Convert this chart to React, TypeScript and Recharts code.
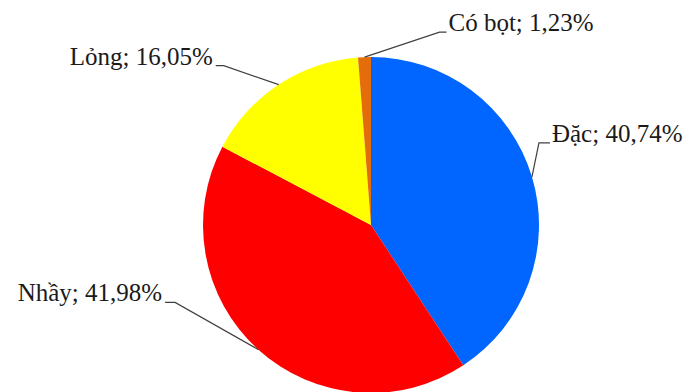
import React from 'react';
import { PieChart, Pie, Cell } from 'recharts';

// Sputum type shares (%)
const categories = ['Đặc', 'Nhầy', 'Lỏng', 'Có bọt'];
const shares = [40.74, 41.98, 16.05, 1.23];
const colors = ['#0066FF', '#FF0000', '#FFFF00', '#E46C0A'];

// leader line elbow offsets from the slice edge, and direction of the label
const leaders = [
  { dx: 7, dy: -34, run: 11, side: 1 },
  { dx: -83, dy: -47, run: -10, side: -1 },
  { dx: -55, dy: -19, run: -8, side: -1 },
  { dx: 75, dy: -25, run: 7, side: 1 },
];

const data = categories.map((name, i) => ({ name, value: shares[i] }));

const RAD = Math.PI / 180;
const serif = '"Liberation Serif", "Times New Roman", Times, serif';

const renderLabel = (props: any) => {
  const { cx, cy, midAngle, outerRadius, index, name, value } = props;
  const sx = cx + outerRadius * Math.cos(-midAngle * RAD);
  const sy = cy + outerRadius * Math.sin(-midAngle * RAD);
  const l = leaders[index];
  const ex = sx + l.dx;
  const ey = sy + l.dy;
  const tx = ex + l.run;
  const text = `${name}; ${value.toFixed(2).replace('.', ',')}%`;
  return (
    <g key={`lbl-${index}`}>
      <polyline
        points={`${sx},${sy} ${ex},${ey} ${tx},${ey}`}
        fill="none"
        stroke="#404040"
        strokeWidth={1.2}
      />
      <text
        x={tx + (l.side > 0 ? 2 : -3)}
        y={ey - 1}
        textAnchor={l.side > 0 ? 'start' : 'end'}
        fill="#1a1a1a"
        style={{ fontFamily: serif, fontSize: 25 }}
      >
        {text}
      </text>
    </g>
  );
};

export default function App() {
  return (
    <div style={{ position: 'absolute', left: 0, top: 0, width: 687, height: 392, background: '#fff', overflow: 'hidden', fontFamily: serif }}>
      <PieChart width={687} height={400} margin={{ top: 0, right: 0, bottom: 0, left: 0 }}>
        <Pie
          data={data}
          dataKey="value"
          nameKey="name"
          cx={371}
          cy={225}
          outerRadius={168}
          startAngle={90}
          endAngle={-270}
          stroke="none"
          labelLine={false}
          label={renderLabel}
          isAnimationActive={false}
        >
          {data.map((d, i) => (
            <Cell key={d.name} fill={colors[i]} />
          ))}
        </Pie>
      </PieChart>
    </div>
  );
}
